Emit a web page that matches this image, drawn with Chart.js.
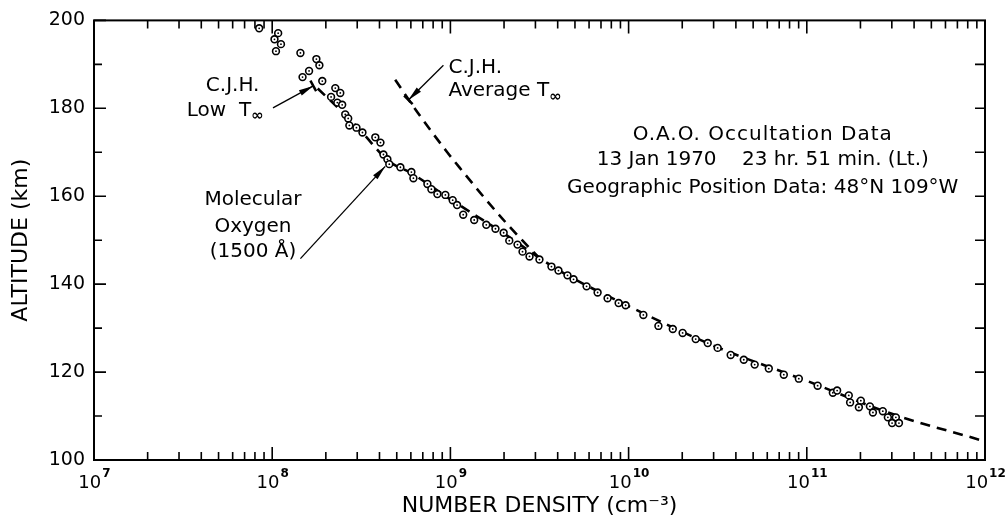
<!DOCTYPE html>
<html>
<head>
<meta charset="utf-8">
<script src="https://cdn.jsdelivr.net/npm/chart.js@4.4.1/dist/chart.umd.min.js"></script>
<style>
  html, body { margin: 0; padding: 0; background: #fff; }
</style>
</head>
<body>
<canvas id="chart" width="1006" height="521"></canvas>
<script>
  // O.A.O. occultation points: number density (cm^-3) and altitude (km)
  var obsDensity = [
    8.45e7, 1.08e8, 1.03e8, 1.12e8, 1.05e8, 1.44e8, 1.77e8, 1.84e8, 1.61e8, 1.48e8,
    1.91e8, 2.26e8, 2.41e8, 2.14e8, 2.32e8, 2.47e8, 2.57e8, 2.67e8, 2.71e8, 2.97e8,
    3.21e8, 3.79e8, 4.05e8, 4.21e8, 4.43e8, 4.54e8, 5.24e8, 6.04e8, 6.20e8, 7.43e8,
    7.82e8, 8.45e8, 9.37e8, 1.03e9, 1.09e9, 1.18e9, 1.36e9, 1.59e9, 1.79e9, 1.99e9,
    2.14e9, 2.38e9, 2.54e9, 2.78e9, 3.16e9, 3.69e9, 4.04e9, 4.54e9, 4.91e9, 5.81e9,
    6.70e9, 7.62e9, 8.79e9, 9.62e9, 1.21e10, 1.47e10, 1.77e10, 2.01e10, 2.38e10, 2.78e10,
    3.16e10, 3.74e10, 4.43e10, 5.10e10, 6.12e10, 7.43e10, 9.02e10, 1.15e11, 1.40e11, 1.48e11,
    1.72e11, 1.75e11, 2.01e11, 1.96e11, 2.26e11, 2.35e11, 2.67e11, 2.85e11, 3.16e11, 3.01e11,
    3.29e11
  ];
  var obsAltitude = [
    198.2, 197.1, 195.7, 194.6, 193.0, 192.6, 191.2, 189.8, 188.5, 187.1,
    186.2, 184.6, 183.5, 182.6, 181.3, 180.8, 178.6, 177.7, 176.1, 175.6,
    174.5, 173.4, 172.2, 169.5, 168.4, 167.3, 166.6, 165.5, 164.1, 162.8,
    161.6, 160.5, 160.3, 159.1, 158.0, 155.8, 154.6, 153.5, 152.6, 151.7,
    149.9, 149.0, 147.4, 146.3, 145.6, 144.0, 143.1, 142.0, 141.1, 139.5,
    138.1, 136.8, 135.7, 135.2, 133.0, 130.5, 129.8, 128.9, 127.5, 126.6,
    125.5, 123.9, 122.8, 121.7, 120.8, 119.4, 118.5, 116.9, 115.3, 115.8,
    114.7, 113.1, 113.5, 112.0, 112.2, 110.8, 111.1, 109.7, 109.7, 108.4,
    108.4
  ];

  // C.J.H. model, low exospheric temperature
  var lowDensity  = [1.8e8, 2.5e8, 3.2e8, 4.5e8, 6.0e8, 1.0e9, 2.0e9, 4.0e9, 1.0e10, 3.0e10, 1.0e11, 3.0e11, 9.5e11];
  var lowAltitude = [184.5, 179.0, 174.5, 168.0, 165.3, 159.3, 151.5, 143.3, 135.0, 126.0, 118.0, 110.5, 104.5];

  // C.J.H. model, average exospheric temperature
  var avgDensity  = [4.9e8, 6.56e8, 9.6e8, 1.18e9, 1.57e9, 2.08e9, 2.80e9, 3.19e9];
  var avgAltitude = [186.5, 179.0, 170.0, 165.5, 159.4, 153.7, 148.1, 145.8];

  var xTickExps = [7, 8, 9, 10, 11, 12];
  var yMajor = [100, 120, 140, 160, 180, 200];

  var FONT = '"DejaVu Sans", sans-serif';

  function pairs(xs, ys) {
    return xs.map(function (x, i) { return {x: x, y: ys[i]}; });
  }

  // text labels and arrows, placed in data coordinates
  var notes = [
    {t: 'C.J.H.', x: 6.0e7, y: 185.1, align: 'center'},
    {t: 'Low  T', sub: '\u221e', x: 5.45e7, y: 179.5, align: 'center'},
    {t: 'C.J.H.', x: 9.75e8, y: 189.2, align: 'left'},
    {t: 'Average T', sub: '\u221e', x: 9.75e8, y: 184.0, align: 'left'},
    {t: 'O.A.O. Occultation Data', x: 5.66e10, y: 174.0, align: 'center', ls: 1},
    {t: '13 Jan 1970    23 hr. 51 min. (Lt.)', x: 5.66e10, y: 168.2, align: 'center'},
    {t: 'Geographic Position Data: 48\u00b0N 109\u00b0W', x: 5.66e10, y: 161.9, align: 'center'},
    {t: 'Molecular', x: 7.8e7, y: 159.1, align: 'center'},
    {t: 'Oxygen', x: 7.8e7, y: 153.0, align: 'center'},
    {t: '(1500 \u00c5)', x: 7.8e7, y: 147.4, align: 'center'}
  ];
  var arrows = [
    {x1: 1.01e8, y1: 180.1, x2: 1.70e8, y2: 185.1, cap: true},
    {x1: 9.14e8, y1: 189.8, x2: 5.81e8, y2: 181.9, cap: true},
    {x1: 1.44e8, y1: 145.8, x2: 4.31e8, y2: 166.8, cap: false}
  ];

  var decor = {
    id: 'decor',
    afterDraw: function (chart) {
      var ctx = chart.ctx, ca = chart.chartArea;
      var xs = chart.scales.x, ys = chart.scales.y;
      ctx.save();
      ctx.strokeStyle = '#000';
      ctx.fillStyle = '#000';
      ctx.lineWidth = 2;
      ctx.strokeRect(ca.left, ca.top, ca.right - ca.left, ca.bottom - ca.top);

      // log ticks, pointing inward on bottom and top
      ctx.lineWidth = 1.6;
      ctx.beginPath();
      for (var e = 7; e <= 12; e++) {
        for (var m = 1; m <= 9; m++) {
          if (e === 12 && m > 1) break;
          var px = xs.getPixelForValue(m * Math.pow(10, e));
          var len = m === 1 ? 13 : 8;
          ctx.moveTo(px, ca.bottom); ctx.lineTo(px, ca.bottom - len);
          ctx.moveTo(px, ca.top); ctx.lineTo(px, ca.top + len);
        }
      }
      // altitude ticks every 10 km
      for (var v = 100; v <= 200; v += 10) {
        var py = ys.getPixelForValue(v);
        var l = v % 20 === 0 ? 12 : 8;
        ctx.moveTo(ca.left, py); ctx.lineTo(ca.left + l, py);
        if (v > 100 && v < 200) { ctx.moveTo(ca.right, py); ctx.lineTo(ca.right - 10, py); }
      }
      ctx.stroke();

      // x tick labels 10^n
      ctx.textBaseline = 'middle';
      xTickExps.forEach(function (k) {
        var px = xs.getPixelForValue(Math.pow(10, k));
        ctx.font = '18px ' + FONT;
        var w1 = ctx.measureText('10').width;
        ctx.font = 'bold 12px ' + FONT;
        var w2 = ctx.measureText(String(k)).width;
        var x0 = px - (w1 + w2) / 2;
        ctx.font = '18px ' + FONT;
        ctx.textAlign = 'left';
        ctx.fillText('10', x0, ca.bottom + 23);
        ctx.font = 'bold 12px ' + FONT;
        ctx.fillText(String(k), x0 + w1 + 1, ca.bottom + 14);
      });

      // annotations
      notes.forEach(function (n) {
        var px = xs.getPixelForValue(n.x), py = ys.getPixelForValue(n.y);
        ctx.letterSpacing = (n.ls || 0) + 'px';
        ctx.font = '20px ' + FONT;
        var w = ctx.measureText(n.t).width;
        var ws = 0;
        if (n.sub) { ctx.font = 'bold 15px ' + FONT; ws = ctx.measureText(n.sub).width; }
        var x0 = n.align === 'center' ? px - (w + ws) / 2 : px;
        ctx.textAlign = 'left';
        ctx.font = '20px ' + FONT;
        ctx.fillText(n.t, x0, py);
        if (n.sub) {
          ctx.font = 'bold 15px ' + FONT;
          ctx.fillText(n.sub, x0 + w, py + 6);
        }
      });
      ctx.letterSpacing = '0px';

      arrows.forEach(function (a) {
        var x1 = xs.getPixelForValue(a.x1), y1 = ys.getPixelForValue(a.y1);
        var x2 = xs.getPixelForValue(a.x2), y2 = ys.getPixelForValue(a.y2);
        var ang = Math.atan2(y2 - y1, x2 - x1);
        ctx.lineWidth = 1.3;
        ctx.beginPath(); ctx.moveTo(x1, y1); ctx.lineTo(x2, y2); ctx.stroke();
        ctx.beginPath();
        ctx.moveTo(x2, y2);
        ctx.lineTo(x2 - 15 * Math.cos(ang - 0.2), y2 - 15 * Math.sin(ang - 0.2));
        ctx.lineTo(x2 - 15 * Math.cos(ang + 0.2), y2 - 15 * Math.sin(ang + 0.2));
        ctx.closePath(); ctx.fill();
        if (a.cap) {
          ctx.lineWidth = 2.5;
          var pa = ang + Math.PI / 2;
          ctx.beginPath();
          ctx.moveTo(x2 - 6 * Math.cos(pa), y2 - 6 * Math.sin(pa));
          ctx.lineTo(x2 + 6 * Math.cos(pa), y2 + 6 * Math.sin(pa));
          ctx.stroke();
        }
      });
      ctx.restore();
    }
  };

  var obs = pairs(obsDensity, obsAltitude);

  new Chart(document.getElementById('chart').getContext('2d'), {
    type: 'scatter',
    data: {
      datasets: [
        {   // centre dots of the open circles
          data: obs,
          pointRadius: 0.9,
          pointBorderWidth: 0,
          pointBackgroundColor: '#000'
        },
        {
          data: obs,
          pointRadius: 3.4,
          pointBorderWidth: 1.6,
          pointBorderColor: '#000',
          pointBackgroundColor: '#fff'
        },
        {
          data: pairs(lowDensity, lowAltitude),
          showLine: true,
          borderColor: '#000',
          borderWidth: 2.6,
          borderDash: [10, 7],
          pointRadius: 0,
          cubicInterpolationMode: 'monotone'
        },
        {
          data: pairs(avgDensity, avgAltitude),
          showLine: true,
          borderColor: '#000',
          borderWidth: 2.6,
          borderDash: [10, 7],
          pointRadius: 0,
          cubicInterpolationMode: 'monotone'
        }
      ]
    },
    options: {
      responsive: false,
      animation: false,
      devicePixelRatio: 1,
      layout: {padding: {left: 0, right: 21, top: 17, bottom: 0}},
      plugins: {legend: {display: false}, tooltip: {enabled: false}},
      scales: {
        x: {
          type: 'logarithmic',
          min: 1e7,
          max: 1e12,
          grid: {display: false, drawTicks: false},
          border: {display: false},
          ticks: {display: false},
          title: {
            display: true,
            text: 'NUMBER DENSITY (cm\u207b\u00b3)',
            color: '#000',
            font: {family: FONT, size: 22},
            padding: {top: 0, bottom: 2}
          },
          afterFit: function (s) { s.height = 61; }
        },
        y: {
          min: 100,
          max: 200,
          grid: {display: false, drawTicks: false},
          border: {display: false},
          ticks: {
            stepSize: 20,
            padding: 9,
            color: '#000',
            font: {family: FONT, size: 19},
            callback: function (v) { return yMajor.indexOf(v) >= 0 ? String(v) : ''; }
          },
          title: {
            display: true,
            text: 'ALTITUDE (km)',
            color: '#000',
            font: {family: FONT, size: 22},
            padding: {top: 8, bottom: 0}
          },
          afterFit: function (s) { s.width = 94; }
        }
      }
    },
    plugins: [decor]
  });
</script>
</body>
</html>
